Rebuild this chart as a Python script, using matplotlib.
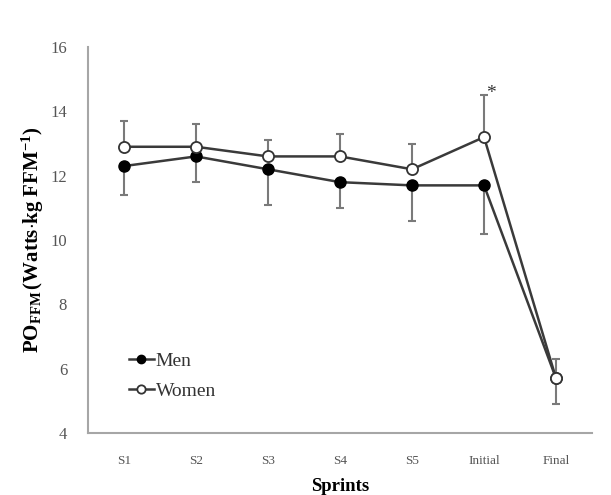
import matplotlib
matplotlib.use("Agg")
import matplotlib.pyplot as plt

categories = ["S1", "S2", "S3", "S4", "S5", "Initial", "Final"]
men = [12.3, 12.6, 12.2, 11.8, 11.7, 11.7, 5.7]
men_err = [0.9, 0.8, 1.1, 0.8, 1.1, 1.5, 0.8]
women = [12.9, 12.9, 12.6, 12.6, 12.2, 13.2, 5.7]
women_err = [0.8, 0.7, 0.5, 0.7, 0.8, 1.3, 0.6]
yticks = [4, 6, 8, 10, 12, 14, 16]

plt.rcParams["font.family"] = ["Liberation Serif", "DejaVu Serif"]
plt.rcParams["mathtext.fontset"] = "custom"
plt.rcParams["mathtext.rm"] = "Liberation Serif"
plt.rcParams["mathtext.bf"] = "Liberation Serif:bold"
plt.rcParams["mathtext.it"] = "Liberation Serif:italic"

fig = plt.figure(figsize=(6.11, 4.95), dpi=100)
ax = fig.add_axes([0.144, 0.125, 0.825, 0.78])

x = list(range(len(categories)))
line_c = "#3a3a3a"
err_c = "#7a7a7a"

ax.errorbar(x, women, yerr=[[0]*len(x), women_err], fmt="none", ecolor=err_c,
            elinewidth=1.5, capsize=3, capthick=1.5, zorder=2)
ax.errorbar(x, men, yerr=[men_err, [0]*len(x)], fmt="none", ecolor=err_c,
            elinewidth=1.5, capsize=3, capthick=1.5, zorder=2)

ax.plot(x, men, color=line_c, lw=1.8, marker="o", ms=8, mfc="black",
        mec="black", label="Men", zorder=3)
ax.plot(x, women, color=line_c, lw=1.8, marker="o", ms=8, mfc="white",
        mec="#333333", mew=1.3, label="Women", zorder=4)

ax.text(5.1, 14.55, "*", fontsize=14, color="#333333", ha="center", va="center")

ax.set_xlim(-0.5, 6.5)
ax.set_ylim(4, 16)
ax.set_xticks(x)
ax.set_xticklabels(categories, fontsize=9.5, color="#555555")
ax.set_yticks(yticks)
ax.set_yticklabels([str(v) for v in yticks], fontsize=12, color="#555555")
ax.tick_params(length=0, pad=16)
ax.tick_params(axis="y", pad=15)

for s in ["top", "right"]:
    ax.spines[s].set_visible(False)
for s in ["left", "bottom"]:
    ax.spines[s].set_color("#a6a6a6")
    ax.spines[s].set_linewidth(1.5)

ax.set_ylabel(r"$\mathbf{PO}_{\mathbf{FFM}}\,\mathbf{(Watts{\cdot}kg\ FFM}^{\mathbf{-1}}\mathbf{)}$",
              fontsize=15, labelpad=3)
ax.set_xlabel("Sprints", fontsize=13.5, fontweight="bold", labelpad=8)

leg = ax.legend(loc="lower left", bbox_to_anchor=(0.065, 0.065), frameon=False,
                fontsize=14, handlelength=1.3, handletextpad=0.1,
                labelspacing=0.65, borderaxespad=0, markerscale=0.75)
for t in leg.get_texts():
    t.set_color("#333333")

fig.savefig("out.png", dpi=100)
